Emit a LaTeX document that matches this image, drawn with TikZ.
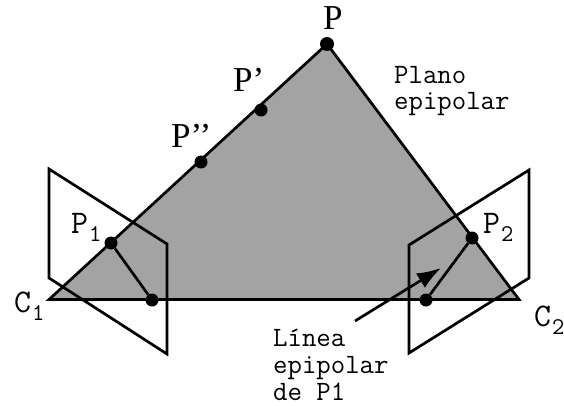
\documentclass[tikz,border=0pt]{standalone}
\usepackage{fontspec}
\setmainfont{Liberation Serif}
\setmonofont{Latin Modern Mono}
\usetikzlibrary{arrows.meta}
\tikzset{
  x=1pt,y=-1pt,
  dotn/.style={circle,fill=black,inner sep=0pt,minimum size=14pt},
  dots/.style={circle,fill=black,inner sep=0pt,minimum size=13pt},
  edge/.style={draw=black,line width=2.7pt,line join=miter},
  serif/.style={anchor=base west,inner sep=0pt,font=\fontsize{35}{35}\selectfont},
  mono/.style={anchor=base west,inner sep=0pt,font=\fontsize{28}{28}\ttfamily\selectfont},
  monolab/.style={anchor=base west,inner sep=0pt,font=\fontsize{33}{33}\ttfamily\selectfont},
  planefill/.style={fill=black!36}
}
\newcommand{\subn}[1]{\hspace{1pt}\raisebox{-8pt}{\fontsize{24}{24}\selectfont #1}}
\begin{document}
\begin{tikzpicture}
\useasboundingbox (0,0) rectangle (564,406);
\coordinate (C1) at (49,299.5);
\coordinate (C2) at (519,299.5);
\coordinate (Ptop) at (327,44);
\fill[planefill] (C1) -- (Ptop) -- (C2) -- cycle;
\draw[edge] (C1) -- (Ptop) -- (C2) -- cycle;
\draw[edge] (49,169) -- (167,244) -- (167,354) -- (49,278) -- cycle;
\draw[edge] (409,245) -- (529,170) -- (529,278) -- (409,353) -- cycle;
\node[dotn] (p) at (Ptop) {};
\node[dots] (pa) at (261,110) {};
\node[dots] (pb) at (201,162) {};
\node[dots] (p1) at (111,243) {};
\node[dots] (f1) at (152,300) {};
\node[dots] (p2) at (472,238) {};
\node[dots] (f2) at (426,300) {};
\draw[edge] (p1) -- (f1);
\draw[edge] (p2) -- (f2);
\coordinate (as) at (355,321);
\coordinate (ae) at (441,268);
\draw[line width=2.7pt,-{Latex[length=24pt,width=17pt]}] (as) -- (ae);
\node[serif] (lp) at (323,30) {P};
\node[serif] (lpa) at (233,92) {P’};
\node[serif] (lpb) at (171,148) {P’’};
\node[monolab] (l1) at (71,233) {P\subn{1}};
\node[monolab] (l2) at (483,233) {P\subn{2}};
\node[monolab] (lc1) at (14,312) {C\subn{1}};
\node[monolab] (lc2) at (534,326) {C\subn{2}};
\node[mono] (plano) at (394,84) {Plano};
\node[mono] (epi) at (394,110) {epipolar};
\node[mono] (lin) at (273,346) {Línea};
\node[mono] (epi2) at (273,373) {epipolar};
\node[mono] (dep) at (273,400) {de P1};
\end{tikzpicture}
\end{document}
